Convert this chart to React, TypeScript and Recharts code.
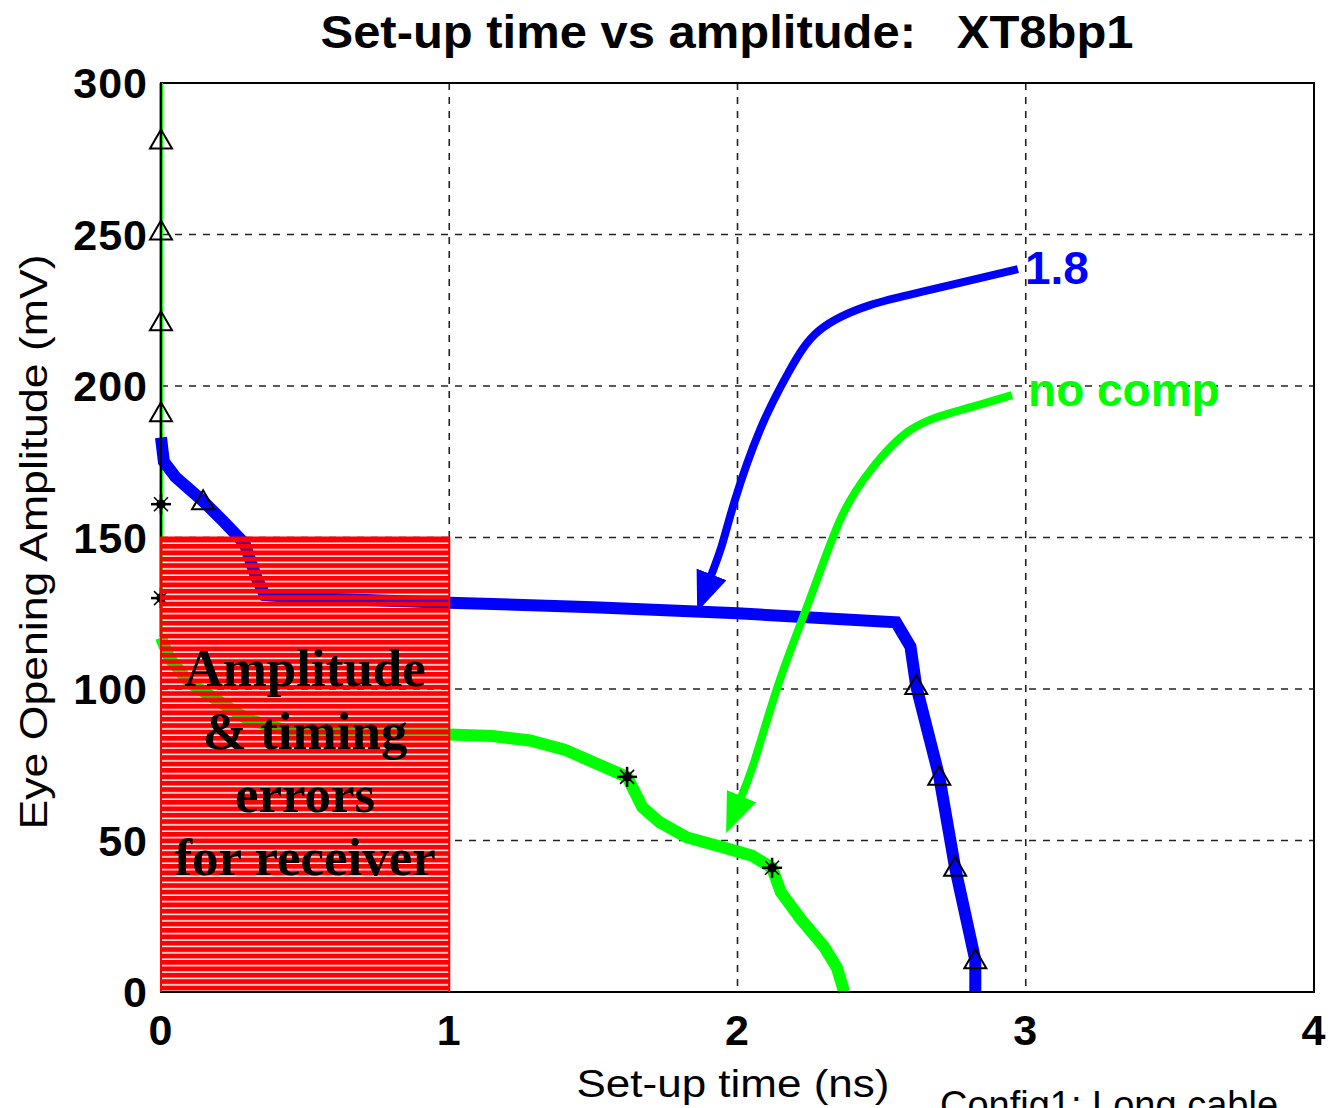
import {
  ComposedChart,
  Line,
  Area,
  Scatter,
  XAxis,
  YAxis,
  CartesianGrid,
  ReferenceArea,
  ReferenceDot,
} from "recharts";

// Set-up time vs eye opening amplitude, XT8bp1 (MATLAB-style figure).

const xTicks = [0, 1, 2, 3, 4];
const yTicks = [0, 50, 100, 150, 200, 250, 300];

// "1.8" compensation curve
const blueCurve = [
  { x: 0, y: 183 },
  { x: 0.01, y: 175 },
  { x: 0.05, y: 170 },
  { x: 0.146, y: 162 },
  { x: 0.22, y: 155 },
  { x: 0.29, y: 148 },
  { x: 0.33, y: 137 },
  { x: 0.36, y: 131 },
  { x: 0.5, y: 130 },
  { x: 1, y: 128.5 },
  { x: 1.5, y: 127 },
  { x: 2, y: 125 },
  { x: 2.55, y: 122 },
  { x: 2.6, y: 114 },
  { x: 2.62, y: 101 },
  { x: 2.7, y: 71 },
  { x: 2.755, y: 41 },
  { x: 2.825, y: 10.5 },
  { x: 2.825, y: 0 },
];

// "no comp" curve
const greenThin = [
  { x: 0, y: 300 },
  { x: 0, y: 117 },
];
const greenCurve = [
  { x: 0, y: 117 },
  { x: 0.03, y: 110 },
  { x: 0.1, y: 102 },
  { x: 0.2, y: 96 },
  { x: 0.3, y: 90 },
  { x: 0.45, y: 86 },
  { x: 0.7, y: 85 },
  { x: 1, y: 85 },
  { x: 1.15, y: 84.5 },
  { x: 1.28, y: 83 },
  { x: 1.4, y: 80 },
  { x: 1.52, y: 75 },
  { x: 1.617, y: 71 },
  { x: 1.67, y: 61 },
  { x: 1.73, y: 56 },
  { x: 1.825, y: 51 },
  { x: 1.94, y: 48 },
  { x: 2.05, y: 45 },
  { x: 2.12, y: 41 },
  { x: 2.15, y: 33 },
  { x: 2.22, y: 24 },
  { x: 2.3, y: 15 },
  { x: 2.345, y: 8 },
  { x: 2.37, y: 0 },
];

const triangleMarks = [
  { x: 0, y: 281 },
  { x: 0, y: 251 },
  { x: 0, y: 221 },
  { x: 0, y: 191 },
  { x: 0.146, y: 162 },
  { x: 2.62, y: 101 },
  { x: 2.7, y: 71 },
  { x: 2.755, y: 41 },
  { x: 2.825, y: 10.5 },
];
const starMarks = [
  { x: 0, y: 161 },
  { x: 0, y: 130 },
  { x: 1.617, y: 71 },
  { x: 2.12, y: 41 },
];

// annotation arrows
const blueArrow = [
  { x: 2.973, y: 238.6 },
  { x: 2.668, y: 231.7 },
  { x: 2.46, y: 226.7 },
  { x: 2.286, y: 218.5 },
  { x: 2.18, y: 205 },
  { x: 2.078, y: 185.5 },
  { x: 1.99, y: 162 },
  { x: 1.946, y: 147.5 },
  { x: 1.905, y: 136.6 },
];
const greenArrow = [
  { x: 2.952, y: 197 },
  { x: 2.772, y: 192 },
  { x: 2.6, y: 185.5 },
  { x: 2.46, y: 172 },
  { x: 2.356, y: 155.8 },
  { x: 2.25, y: 129.4 },
  { x: 2.147, y: 103 },
  { x: 2.06, y: 76.6 },
  { x: 2.009, y: 63.4 },
];

// receiver error region (0..1 ns, 0..150 mV)
const errorBox = [
  { x: 0, y: 0 },
  { x: 0, y: 150 },
  { x: 1, y: 150 },
  { x: 1, y: 0 },
];
const errorBoxLabelAt = [{ x: 0.5, y: 150 }];
const boxLines = ["Amplitude", "& timing", "errors", "for receiver"];

const BLUE = "#0000ff";
const GREEN = "#00ff00";
const sans = "'Liberation Sans', Arial, sans-serif";

function Triangle(props: any) {
  const { cx, cy } = props;
  if (cx == null || cy == null) return null;
  return (
    <path
      d={`M${cx},${cy - 11} L${cx + 11},${cy + 8} L${cx - 11},${cy + 8} Z`}
      fill="none"
      stroke="#000"
      strokeWidth={2}
    />
  );
}

function Star(props: any) {
  const { cx, cy } = props;
  if (cx == null || cy == null) return null;
  const r = 10;
  const d = 7;
  return (
    <g stroke="#000" strokeWidth={2.5}>
      <line x1={cx - r} y1={cy} x2={cx + r} y2={cy} />
      <line x1={cx} y1={cy - r} x2={cx} y2={cy + r} />
      <line x1={cx - d} y1={cy - d} x2={cx + d} y2={cy + d} strokeWidth={1.5} />
      <line x1={cx - d} y1={cy + d} x2={cx + d} y2={cy - d} strokeWidth={1.5} />
      <circle cx={cx} cy={cy} r={3.5} fill="#000" />
    </g>
  );
}

function BoxLabel(props: any) {
  const { cx, cy } = props;
  if (cx == null || cy == null) return null;
  return (
    <g>
      {boxLines.map((t, i) => (
        <text
          key={t}
          x={cx}
          y={cy + 148 + i * 63}
          textAnchor="middle"
          fontFamily="'Liberation Serif', 'Times New Roman', serif"
          fontWeight={700}
          fontSize={53}
          fill="#000"
        >
          {t}
        </text>
      ))}
    </g>
  );
}

function TextMark(text: string, color: string) {
  return (props: any) => (
    <text
      x={props.cx}
      y={props.cy + 16}
      fontFamily={sans}
      fontWeight={700}
      fontSize={46}
      fill={color}
    >
      {text}
    </text>
  );
}

const tickStyle = {
  fill: "#000",
  fontSize: 43,
  fontWeight: 700,
  fontFamily: sans,
  letterSpacing: 1,
};

export default function App() {
  return (
    <div style={{ position: "absolute", left: 0, top: 0, background: "#fff" }}>
      <ComposedChart
        width={1333}
        height={1108}
        margin={{ top: 83, right: 19, left: 0, bottom: 0 }}
      >
        <defs>
          <pattern id="hatch" width="10" height="6.4" patternUnits="userSpaceOnUse">
            <rect x="0" y="0" width="10" height="4.9" fill="#ff0000" />
          </pattern>
          <marker
            id="arrowBlue"
            viewBox="0 0 40 32"
            refX="4"
            refY="16"
            markerWidth="40"
            markerHeight="32"
            markerUnits="userSpaceOnUse"
            orient="auto"
          >
            <path d="M0,0 L40,16 L0,32 Z" fill={BLUE} />
          </marker>
          <marker
            id="arrowGreen"
            viewBox="0 0 40 32"
            refX="4"
            refY="16"
            markerWidth="40"
            markerHeight="32"
            markerUnits="userSpaceOnUse"
            orient="auto"
          >
            <path d="M0,0 L40,16 L0,32 Z" fill={GREEN} />
          </marker>
        </defs>

        <CartesianGrid
          stroke="#222"
          strokeWidth={1.6}
          strokeDasharray="7 7"
          horizontalValues={yTicks}
          verticalValues={xTicks}
        />
        <XAxis
          type="number"
          dataKey="x"
          domain={[0, 4]}
          ticks={xTicks}
          height={116}
          tickLine={false}
          tickSize={8}
          tickMargin={14}
          stroke="#000"
          strokeWidth={2}
          tick={tickStyle}
        />
        <YAxis
          type="number"
          dataKey="y"
          domain={[0, 300]}
          ticks={yTicks}
          width={161}
          tickLine={false}
          tickSize={8}
          tickMargin={5}
          stroke="#000"
          strokeWidth={2}
          tick={tickStyle}
        />

        <ReferenceArea
          x1={0}
          x2={4}
          y1={0}
          y2={300}
          fill="none"
          stroke="#000"
          strokeWidth={2}
          fillOpacity={0}
        />

        <Line
          data={greenThin}
          dataKey="y"
          type="linear"
          stroke={GREEN}
          strokeWidth={4}
          dot={false}
          activeDot={false}
          isAnimationActive={false}
        />
        <Line
          data={blueCurve}
          dataKey="y"
          type="linear"
          stroke={BLUE}
          strokeWidth={12}
          dot={false}
          activeDot={false}
          isAnimationActive={false}
        />
        <Line
          data={greenCurve}
          dataKey="y"
          type="linear"
          stroke={GREEN}
          strokeWidth={12}
          dot={false}
          activeDot={false}
          isAnimationActive={false}
        />
        <Line
          data={blueArrow}
          dataKey="y"
          type="natural"
          stroke={BLUE}
          strokeWidth={8}
          dot={false}
          activeDot={false}
          markerEnd="url(#arrowBlue)"
          isAnimationActive={false}
        />
        <Line
          data={greenArrow}
          dataKey="y"
          type="natural"
          stroke={GREEN}
          strokeWidth={8}
          dot={false}
          activeDot={false}
          markerEnd="url(#arrowGreen)"
          isAnimationActive={false}
        />
        <Scatter data={triangleMarks} shape={Triangle} isAnimationActive={false} />
        <Scatter data={starMarks} shape={Star} isAnimationActive={false} />

        <Area
          data={errorBox}
          dataKey="y"
          type="linear"
          baseValue={0}
          fill="url(#hatch)"
          fillOpacity={1}
          stroke="#ff0000"
          strokeWidth={2}
          dot={false}
          activeDot={false}
          isAnimationActive={false}
          zIndex={700}
        />
        <Scatter
          data={errorBoxLabelAt}
          shape={BoxLabel}
          isAnimationActive={false}
          zIndex={800}
        />

        <ReferenceDot x={2.997} y={239} r={0} shape={TextMark("1.8", BLUE)} />
        <ReferenceDot x={3.008} y={198.7} r={0} shape={TextMark("no comp", GREEN)} />

        <text
          x={727}
          y={48}
          textAnchor="middle"
          fontFamily={sans}
          fontWeight={700}
          fontSize={46}
          textLength={813}
          lengthAdjust="spacingAndGlyphs"
          fill="#000"
          style={{ whiteSpace: "pre" }}
        >
          {"Set-up time vs amplitude:   XT8bp1"}
        </text>
        <text
          x={47}
          y={542}
          transform="rotate(-90 47 542)"
          textAnchor="middle"
          fontFamily={sans}
          fontSize={38}
          textLength={575}
          lengthAdjust="spacingAndGlyphs"
          fill="#000"
        >
          Eye Opening Amplitude (mV)
        </text>
        <text
          x={733}
          y={1097}
          textAnchor="middle"
          fontFamily={sans}
          fontSize={38}
          textLength={313}
          lengthAdjust="spacingAndGlyphs"
          fill="#000"
        >
          Set-up time (ns)
        </text>
        <text x={940} y={1118} fontFamily={sans} fontSize={38} fill="#000">
          Config1: Long cable
        </text>
      </ComposedChart>
    </div>
  );
}
